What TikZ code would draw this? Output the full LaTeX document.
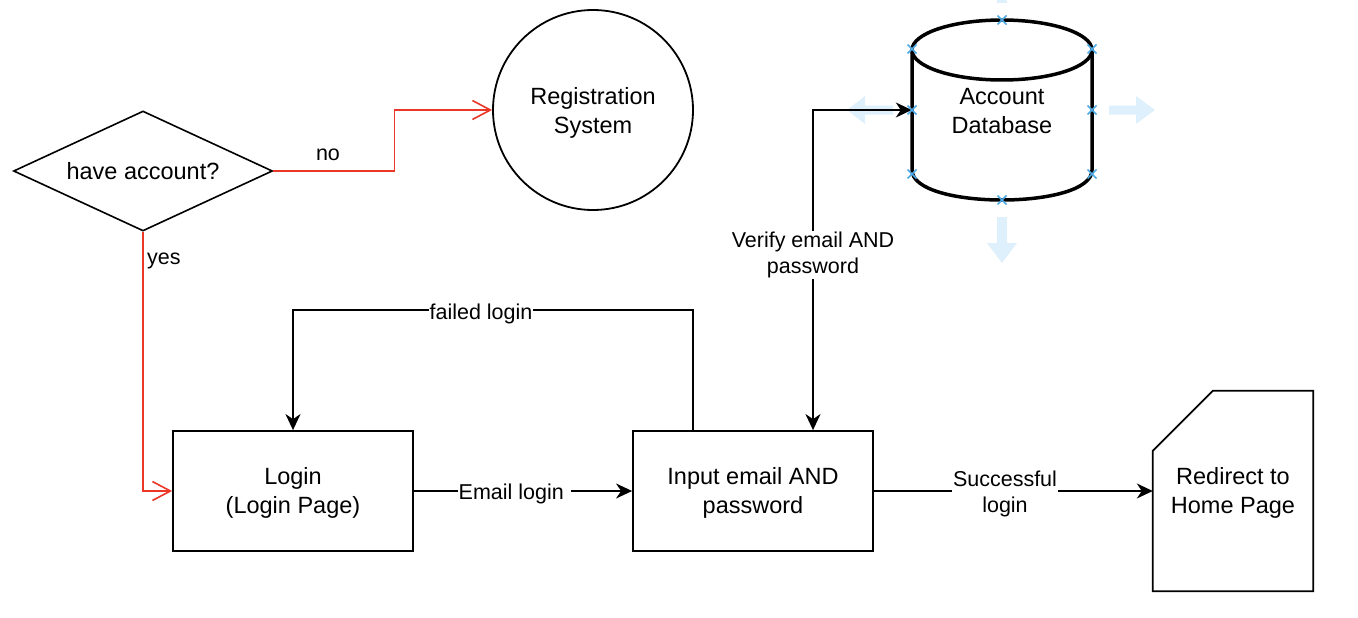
\documentclass[tikz,border=0pt]{standalone}
\usepackage{fontspec}
\setmainfont{Liberation Sans}
\usetikzlibrary{arrows.meta,shapes.geometric,calc}
\definecolor{redline}{RGB}{235,55,40}
\definecolor{handle}{RGB}{80,170,230}
\definecolor{hover}{RGB}{222,240,251}
\begin{document}
\begin{tikzpicture}[x=1pt,y=-1pt,
  every node/.style={font=\fontsize{23.5}{28.5}\selectfont, align=center},
  box/.style={draw, line width=1.8pt, minimum width=240pt, minimum height=120pt, inner sep=0pt},
  txt/.style={inner sep=0pt},
  lbl/.style={font=\fontsize{21.5}{26}\selectfont, fill=white, inner sep=1pt, align=center, yshift=-3pt},
  edge/.style={line width=1.6pt, -{Stealth[length=16pt,width=15pt,inset=5pt]}},
  redge/.style={line width=1.6pt, draw=redline, -{Straight Barb[length=18pt,width=19pt,line width=1.6pt]}},
  hx/.style={draw=handle, line width=1.7pt}
]
\useasboundingbox (0,0) rectangle (1358,618);

% nodes
\node[diamond, draw, line width=1.6pt, minimum width=259pt, minimum height=120pt, inner sep=0pt, shape aspect=2.16] (d) at (143,171) {have account?};
\node[circle, draw, line width=1.8pt, minimum size=200pt, inner sep=0pt] (reg) at (593,110) {};
\node[txt] (regT) at ([yshift=-3pt]reg.center) {Registration\\System};
\node[box] (login) at (293,491) {};
\node[txt] (loginT) at ([yshift=-2pt]login.center) {Login\\(Login Page)};
\node[box] (input) at (753,491) {};
\node[txt] (inputT) at ([yshift=-2pt]input.center) {Input email AND\\password};
\node[minimum width=160pt, minimum height=200pt, inner sep=0pt] (card) at (1233,491) {};
\node[txt] (cardT) at ([yshift=-2pt]card.center) {Redirect to\\Home Page};
\draw[line width=1.8pt] (card.north east) -- (card.south east) -- (card.south west) -- ([yshift=-60pt]card.north west) -- ([xshift=60pt]card.north west) -- cycle;

% cylinder
\draw[line width=3.5pt, fill=white] (912,50) -- (912,170) .. controls (912,210) and (1092,210) .. (1092,170) -- (1092,50);
\draw[line width=3.5pt] (1002,50) ellipse [x radius=90, y radius=30];
\node[minimum width=180pt, minimum height=180pt, inner sep=0pt] (db) at (1002,110) {};
\node[txt] (dbT) at ([yshift=-1pt]db.center) {Account\\Database};

% hover arrows
\fill[hover] (893,105.5) -- (865,105.5) -- (865,96) -- (847,110) -- (865,124) -- (865,114.5) -- (893,114.5) -- cycle;
\fill[hover] (1109,105.5) -- (1136,105.5) -- (1136,96) -- (1155,110) -- (1136,124) -- (1136,114.5) -- (1109,114.5) -- cycle;
\fill[hover] (997,217) -- (1007,217) -- (1007,243) -- (1017,243) -- (1002,263) -- (987,243) -- (997,243) -- cycle;
\fill[hover] (997,0) rectangle (1007,3);

% edges
\draw[redge] (d.east) -- ++(121,0) |- (reg.west);
\node[font=\fontsize{21.5}{26}\selectfont] (no) at (328,155) {no};
\draw[redge] (d.south) |- (login.west);
\node[font=\fontsize{21.5}{26}\selectfont, anchor=west, inner sep=0pt] (yes) at (147,261) {yes};

\draw[edge] (login.east) -- (input.west) node[lbl, pos=0.46] (el) {Email login\ };
\draw[edge] ([xshift=-60pt]input.north) -- ++(0,-120) -| (login.north) node[lbl, pos=0.265, yshift=-1pt] (fl) {failed login};
\draw[line width=1.6pt, {Stealth[length=16pt,width=15pt,inset=5pt]}-{Stealth[length=16pt,width=15pt,inset=5pt]}] ([xshift=60pt]input.north) |- (db.west) node[lbl, pos=0.277, yshift=1pt] (vf) {Verify email AND\\password};
\draw[edge] (input.east) -- (card.west) node[lbl, pos=0.47] (sl) {Successful\\login};

% selection handles
\foreach \p in {(1002,20),(912,49),(1092,49),(912,110),(1092,110),(912,174),(1092,174),(1002,200)} {
  \draw[hx] \p ++(-4.5,-4.5) -- ++(9,9) ++(-9,0) -- ++(9,-9);
}
\end{tikzpicture}
\end{document}
